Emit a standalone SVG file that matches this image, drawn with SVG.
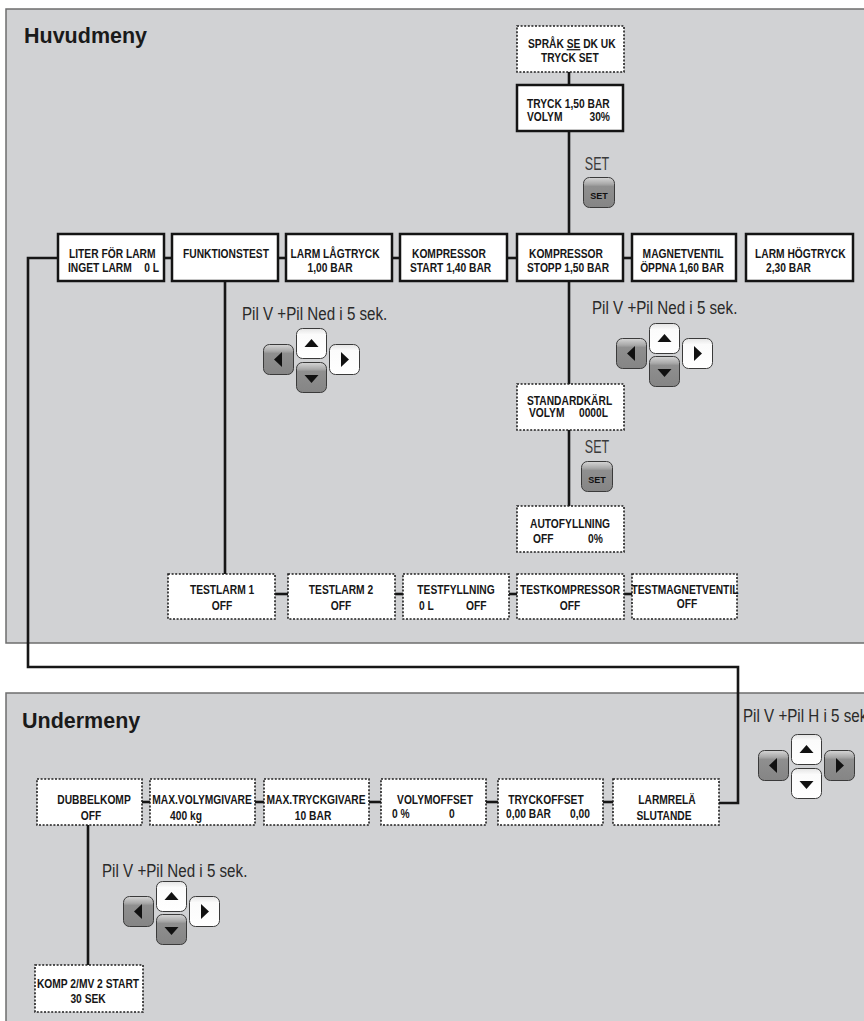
<svg xmlns="http://www.w3.org/2000/svg" xmlns:xlink="http://www.w3.org/1999/xlink" width="864" height="1021" viewBox="0 0 864 1021">
<style>
.panel{fill:#d1d2d4;stroke:#6e6e6e;stroke-width:1.5}
.solid{fill:#fff;stroke:#141414;stroke-width:2.5}
.dot{fill:#fff;stroke:#1e1e1e;stroke-width:1.6;stroke-dasharray:2 1.6}
.bx,.pil,.setl{transform-box:fill-box;transform-origin:0 0;transform:scaleX(0.82)}
.bx{font-family:"Liberation Sans Narrow","Arial Narrow","Liberation Sans",sans-serif;font-weight:bold;font-size:12.5px;fill:#161616}
.c{text-anchor:middle;transform-origin:50% 0}
.e{text-anchor:end;transform-origin:100% 0}
.ttl{font-family:"Liberation Sans",Arial,sans-serif;font-weight:bold;font-size:21.5px;fill:#1a1a1a}
.pil{font-family:"Liberation Sans Narrow","Arial Narrow","Liberation Sans",sans-serif;font-size:18.5px;fill:#2a2a2a}
.setl{font-family:"Liberation Sans Narrow","Arial Narrow","Liberation Sans",sans-serif;font-size:19px;fill:#3a3a3a;text-anchor:middle;transform-origin:50% 0;transform:scaleX(0.66)}
.sett{font-family:"Liberation Sans",sans-serif;font-weight:bold;font-size:9px;fill:#111;text-anchor:middle}
.conn path{fill:none;stroke:#161616;stroke-width:2.6}
.tri{fill:#111}
</style>
<defs>
<linearGradient id="gG" x1="0" y1="0" x2="0" y2="1">
<stop offset="0" stop-color="#d6d6d6"/>
<stop offset="0.22" stop-color="#a9a9a9"/>
<stop offset="0.3" stop-color="#8f8f8f"/>
<stop offset="1" stop-color="#858585"/>
</linearGradient>
<linearGradient id="gW" x1="0" y1="0" x2="0" y2="1">
<stop offset="0" stop-color="#e4e4e4"/>
<stop offset="0.2" stop-color="#fbfbfb"/>
<stop offset="1" stop-color="#ffffff"/>
</linearGradient>
<g id="kg"><rect x="0.5" y="0.5" width="30" height="30" rx="6" fill="url(#gG)" stroke="#3a3a3a" stroke-width="1"/></g>
<g id="kw"><rect x="0.5" y="0.5" width="30" height="30" rx="6" fill="url(#gW)" stroke="#3a3a3a" stroke-width="1"/></g>
<path id="tu" class="tri" d="M8.5,19 L22.5,19 L15.5,11 Z"/>
<path id="td" class="tri" d="M8.5,13 L22.5,13 L15.5,21 Z"/>
<path id="tl" class="tri" d="M19,8 L19,23 L11,15.5 Z"/>
<path id="tr" class="tri" d="M12,8 L12,23 L20,15.5 Z"/>
<g id="setb"><rect x="0.5" y="0.5" width="31" height="30" rx="6" fill="url(#gG)" stroke="#3a3a3a" stroke-width="1"/><text class="sett" x="16" y="22">SET</text></g>
</defs>

<rect class="panel" x="6" y="9" width="870" height="634"/>
<rect class="panel" x="6" y="693" width="870" height="340"/>
<text class="ttl" x="24" y="43">Huvudmeny</text>
<text class="ttl" x="22" y="728">Undermeny</text>

<g class="conn" id="connectors">
<path d="M569,72 V85"/>
<path d="M569,131 V234"/>
<path d="M164,258 H172"/>
<path d="M278,258 H286"/>
<path d="M392,258 H400"/>
<path d="M507,258 H517"/>
<path d="M623,258 H632"/>
<path d="M569,281 V384"/>
<path d="M569,430 V506"/>
<path d="M225,281 V574"/>
<path d="M275,594 H288"/>
<path d="M395,594 H403"/>
<path d="M509,594 H517"/>
<path d="M624,594 H632"/>
<path d="M58,258 H28 V667 H738 V803 H719"/>
<path d="M142,802 H150"/>
<path d="M255,802 H264"/>
<path d="M369,802 H381"/>
<path d="M486,802 H498"/>
<path d="M603,802 H613"/>
<path d="M88,825 V965"/>
</g>

<g id="n-sprak"><rect class="dot" x="517" y="26" width="107" height="46"/>
<text class="bx" x="528" y="48">SPRÅK <tspan style="text-decoration:underline">SE</tspan> DK UK</text>
<text class="bx" x="541" y="62">TRYCK SET</text></g>
<g id="n-tryck"><rect class="solid" x="517" y="85" width="106" height="46"/>
<text class="bx" x="527" y="108">TRYCK 1,50 BAR</text>
<text class="bx" x="527" y="121">VOLYM</text><text class="bx e" x="610" y="121">30%</text></g>

<g id="n-liter"><rect class="solid" x="58" y="234" width="106" height="47"/>
<text class="bx" x="69" y="258">LITER FÖR LARM</text>
<text class="bx" x="68" y="272">INGET LARM</text><text class="bx e" x="159" y="272">0 L</text></g>
<g id="n-funk"><rect class="solid" x="172" y="234" width="106" height="47"/>
<text class="bx" x="183" y="258">FUNKTIONSTEST</text></g>
<g id="n-lag"><rect class="solid" x="286" y="234" width="106" height="47"/>
<text class="bx c" x="335" y="258">LARM LÅGTRYCK</text>
<text class="bx c" x="330" y="272">1,00 BAR</text></g>
<g id="n-kstart"><rect class="solid" x="400" y="234" width="107" height="47"/>
<text class="bx" x="412" y="258">KOMPRESSOR</text>
<text class="bx" x="410" y="272">START 1,40 BAR</text></g>
<g id="n-kstopp"><rect class="solid" x="517" y="234" width="106" height="47"/>
<text class="bx" x="529" y="258">KOMPRESSOR</text>
<text class="bx" x="527" y="272">STOPP 1,50 BAR</text></g>
<g id="n-magnet"><rect class="solid" x="632" y="234" width="104" height="47"/>
<text class="bx c" x="683" y="258">MAGNETVENTIL</text>
<text class="bx c" x="682" y="272">ÖPPNA 1,60 BAR</text></g>
<g id="n-hog"><rect class="solid" x="746" y="234" width="107" height="47"/>
<text class="bx" x="755" y="258">LARM HÖGTRYCK</text>
<text class="bx" x="766" y="272">2,30 BAR</text></g>

<g id="n-standard"><rect class="dot" x="517" y="384" width="107" height="46"/>
<text class="bx" x="527" y="405">STANDARDKÄRL</text>
<text class="bx" x="529" y="417">VOLYM</text><text class="bx e" x="608" y="417">0000L</text></g>
<g id="n-auto"><rect class="dot" x="517" y="506" width="107" height="46"/>
<text class="bx c" x="570" y="528">AUTOFYLLNING</text>
<text class="bx" x="533" y="543">OFF</text><text class="bx" x="588" y="543">0%</text></g>

<g id="n-testlarm1"><rect class="dot" x="168" y="574" width="107" height="45"/>
<text class="bx c" x="222" y="594">TESTLARM 1</text><text class="bx c" x="222" y="610">OFF</text></g>
<g id="n-testlarm2"><rect class="dot" x="288" y="574" width="107" height="45"/>
<text class="bx c" x="341" y="594">TESTLARM 2</text><text class="bx c" x="341" y="610">OFF</text></g>
<g id="n-testfyll"><rect class="dot" x="403" y="574" width="106" height="45"/>
<text class="bx c" x="456" y="594">TESTFYLLNING</text><text class="bx" x="419" y="610">0 L</text><text class="bx" x="466" y="610">OFF</text></g>
<g id="n-testkomp"><rect class="dot" x="517" y="574" width="107" height="45"/>
<text class="bx c" x="570" y="594">TESTKOMPRESSOR</text><text class="bx c" x="570" y="610">OFF</text></g>
<g id="n-testmag"><rect class="dot" x="632" y="574" width="105" height="45"/>
<text class="bx c" x="685" y="594">TESTMAGNETVENTIL</text><text class="bx c" x="687" y="608">OFF</text></g>

<g id="n-dubbel"><rect class="dot" x="37" y="779" width="105" height="46"/>
<text class="bx c" x="94" y="804">DUBBELKOMP</text><text class="bx c" x="91" y="820">OFF</text></g>
<g id="n-maxvol"><rect class="dot" x="150" y="779" width="105" height="46"/>
<text class="bx c" x="202" y="804">MAX.VOLYMGIVARE</text><text class="bx c" x="186" y="820">400 kg</text></g>
<g id="n-maxtryck"><rect class="dot" x="264" y="779" width="105" height="46"/>
<text class="bx c" x="316" y="804">MAX.TRYCKGIVARE</text><text class="bx c" x="313" y="820">10 BAR</text></g>
<g id="n-voloff"><rect class="dot" x="381" y="779" width="105" height="46"/>
<text class="bx c" x="435" y="804">VOLYMOFFSET</text><text class="bx" x="392" y="818">0 %</text><text class="bx" x="449" y="818">0</text></g>
<g id="n-tryckoff"><rect class="dot" x="498" y="779" width="105" height="46"/>
<text class="bx c" x="546" y="804">TRYCKOFFSET</text><text class="bx" x="506" y="818">0,00 BAR</text><text class="bx" x="570" y="818">0,00</text></g>
<g id="n-larmrela"><rect class="dot" x="613" y="779" width="106" height="46"/>
<text class="bx c" x="667" y="804">LARMRELÄ</text><text class="bx c" x="664" y="820">SLUTANDE</text></g>
<g id="n-komp2"><rect class="dot" x="35" y="965" width="108" height="47"/>
<text class="bx c" x="88" y="988">KOMP 2/MV 2 START</text><text class="bx c" x="88" y="1003">30 SEK</text></g>

<g id="controls">
<text class="setl" x="597" y="170">SET</text>
<use xlink:href="#setb" x="583" y="177"/>
<text class="setl" x="597" y="453">SET</text>
<use xlink:href="#setb" x="581" y="461"/>

<text class="pil" x="242" y="320">Pil V +Pil Ned i 5 sek.</text>
<use xlink:href="#kg" x="263" y="344"/><use xlink:href="#tl" x="263" y="344"/>
<use xlink:href="#kw" x="296" y="328"/><use xlink:href="#tu" x="296" y="328"/>
<use xlink:href="#kg" x="296" y="362"/><use xlink:href="#td" x="296" y="362"/>
<use xlink:href="#kw" x="329" y="344"/><use xlink:href="#tr" x="329" y="344"/>

<text class="pil" x="592" y="314">Pil V +Pil Ned i 5 sek.</text>
<use xlink:href="#kg" x="616" y="338"/><use xlink:href="#tl" x="616" y="338"/>
<use xlink:href="#kw" x="649" y="323"/><use xlink:href="#tu" x="649" y="323"/>
<use xlink:href="#kg" x="649" y="356"/><use xlink:href="#td" x="649" y="356"/>
<use xlink:href="#kw" x="682" y="338"/><use xlink:href="#tr" x="682" y="338"/>

<text class="pil" x="743" y="722">Pil V +Pil H i 5 sek.</text>
<use xlink:href="#kg" x="758" y="750"/><use xlink:href="#tl" x="758" y="750"/>
<use xlink:href="#kw" x="791" y="734"/><use xlink:href="#tu" x="791" y="734"/>
<use xlink:href="#kw" x="791" y="768"/><use xlink:href="#td" x="791" y="768"/>
<use xlink:href="#kg" x="824" y="750"/><use xlink:href="#tr" x="824" y="750"/>

<text class="pil" x="102" y="877">Pil V +Pil Ned i 5 sek.</text>
<use xlink:href="#kg" x="123" y="896"/><use xlink:href="#tl" x="123" y="896"/>
<use xlink:href="#kw" x="156" y="881"/><use xlink:href="#tu" x="156" y="881"/>
<use xlink:href="#kg" x="156" y="914"/><use xlink:href="#td" x="156" y="914"/>
<use xlink:href="#kw" x="189" y="896"/><use xlink:href="#tr" x="189" y="896"/>
</g>
</svg>
